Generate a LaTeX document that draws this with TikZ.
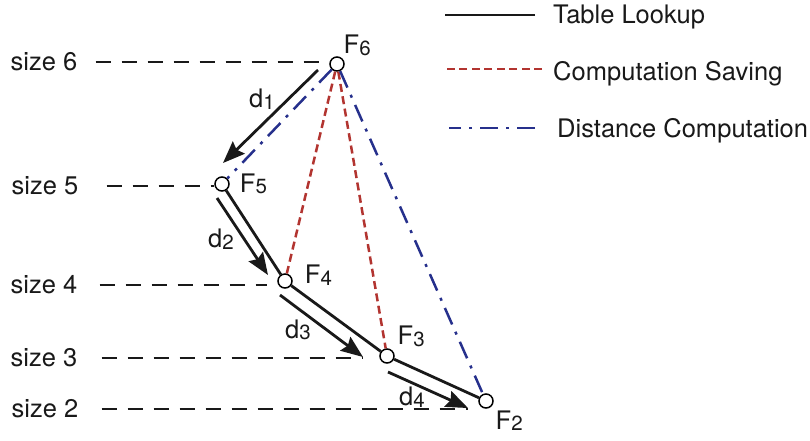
\documentclass[tikz,border=0pt]{standalone}
\usepackage{fontspec}
\setmainfont{TeX Gyre Heros}
\usetikzlibrary{arrows.meta,positioning}
\definecolor{csred}{RGB}{178,52,48}
\definecolor{dcblue}{RGB}{38,48,140}
\newcommand{\idx}[1]{\raisebox{-1.5pt}{\fontsize{20.5}{22}\selectfont #1}}

\begin{document}
\begin{tikzpicture}[x=1pt,y=-1pt,
  every node/.style={font=\fontsize{25.5}{29}\selectfont,text=black!90,inner sep=0pt},
  fnode/.style={draw,circle,fill=white,line width=1.5pt,minimum size=14pt,inner sep=0pt},
  lookup/.style={line width=2.8pt,black!90},
  lookarrow/.style={lookup,-{Stealth[length=22pt,width=17pt,inset=3pt]}},
  saving/.style={line width=2.5pt,csred,dash pattern=on 8pt off 4.5pt},
  distcomp/.style={line width=2.5pt,dcblue,dash pattern=on 18pt off 8pt on 3pt off 8pt},
  level/.style={line width=2.6pt,black!90,dash pattern=on 15pt off 11pt}]
  \useasboundingbox (0,0) rectangle (810,440);

  %% Feature nodes
  \node[fnode] (f6) at (337,64) {};
  \node[fnode] (f5) at (222,184) {};
  \node[fnode] (f4) at (285,281) {};
  \node[fnode] (f3) at (387,356) {};
  \node[fnode] (f2) at (486,401) {};
  \node[above right=3pt and 1pt of f6] (t6) {F\idx{6}};
  \node[right=10pt of f5] (t5) {F\idx{5}};
  \node[right=12pt of f4,yshift=6pt] (t4) {F\idx{4}};
  \node[above right=4pt and 5pt of f3] (t3) {F\idx{3}};
  \node[below right=4pt and 4pt of f2] (t2) {F\idx{2}};

  %% Size levels
  \node (s6) at (44,62) {size 6};
  \node (s5) at (45,186) {size 5};
  \node (s4) at (44,285) {size 4};
  \node (s3) at (44,358) {size 3};
  \node (s2) at (45,409) {size 2};

  %% Arrow ends
  \coordinate (d1s) at (318,70);  \coordinate (d1e) at (223,163);
  \coordinate (d2s) at (217,198); \coordinate (d2e) at (268,275);
  \coordinate (d3s) at (280,295); \coordinate (d3e) at (363,357);
  \coordinate (d4s) at (388,372); \coordinate (d4e) at (468,408);

  %% Dashed size lines
  \draw[level,shorten <=18pt] (s6.east) -- (s6.east -| f6.west);
  \draw[level,shorten <=28pt] (s5.east) -- (s5.east -| f5.west);
  \draw[level,shorten <=22pt,shorten >=10pt] (s4.east) -- (s4.east -| f4.west);
  \draw[level,shorten <=24pt] (s3.east) -- (s3.east -| d3e);
  \draw[level,shorten <=23pt] (s2.east) -- (s2.east -| d4e);

  %% Computation saving and distance computation
  \draw[saving] (f6) -- (f4);
  \draw[saving] (f6) -- (f3);
  \draw[distcomp] (f6) -- (f5);
  \draw[distcomp] (f6) -- (f2);

  %% Table lookup
  \draw[lookup] (f5) -- (f4);
  \draw[lookup] (f4) -- (f3);
  \draw[lookup] (f3) -- (f2);
  \draw[lookarrow] (d1s) -- (d1e);
  \draw[lookarrow] (d2s) -- (d2e);
  \draw[lookarrow] (d3s) -- (d3e);
  \draw[lookarrow] (d4s) -- (d4e);
  \node (l1) at (262,99) {d\idx{1}};
  \node (l2) at (221,239) {d\idx{2}};
  \node (l3) at (298,330) {d\idx{3}};
  \node (l4) at (412,397) {d\idx{4}};

  %% Legend
  \node[anchor=west] (k1) at (553,17) {Table Lookup};
  \node[anchor=west] (k2) at (553,74) {Computation Saving};
  \node[anchor=west] (k3) at (557,131) {Distance Computation};
  \draw[lookup] ([xshift=-18pt,yshift=2pt]k1.west) -- ++(-90,0);
  \draw[saving] ([xshift=-11pt,yshift=5pt]k2.west) -- ++(-96,0);
  \draw[distcomp] ([xshift=-22pt,yshift=3pt]k3.west) -- ++(-86,0);
\end{tikzpicture}
\end{document}
